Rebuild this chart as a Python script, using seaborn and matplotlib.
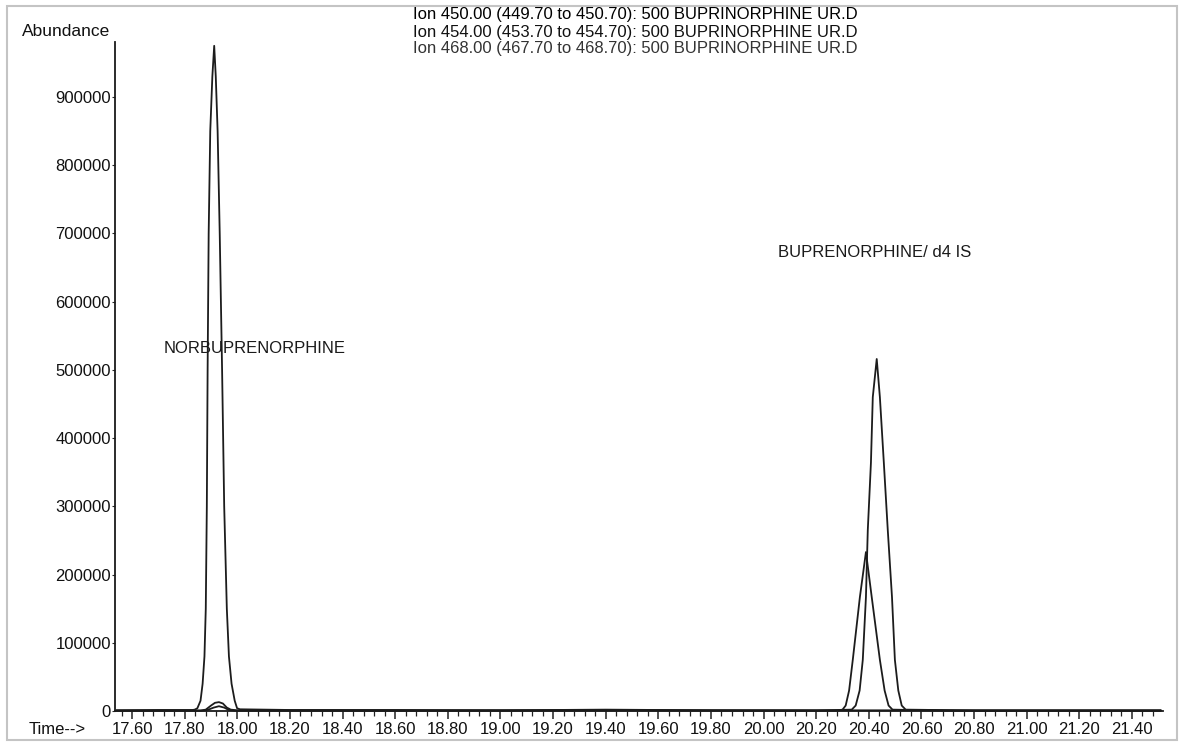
import numpy as np
import pandas as pd
import seaborn as sns
import matplotlib
import matplotlib.pyplot as plt
from matplotlib.ticker import MultipleLocator, FormatStrFormatter
from matplotlib.patches import Rectangle

matplotlib.use('Agg')

#%% data (time in min, abundance)
t_450 = [17.54, 17.70, 17.83, 17.838, 17.848, 17.860, 17.868, 17.875, 17.880, 17.884,
         17.887, 17.891, 17.897, 17.905, 17.912, 17.918, 17.925, 17.933, 17.942, 17.950,
         17.960, 17.968, 17.978, 17.990, 17.999, 18.010, 18.20, 18.60, 19.00, 19.40,
         19.80, 20.20, 20.60, 21.00, 21.51]
abund_450 = [1000, 1500, 1500, 2000, 4000, 15000, 40000, 80000, 150000, 300000,
             500000, 700000, 850000, 930000, 975000, 930000, 850000, 700000, 500000, 300000,
             150000, 80000, 40000, 15000, 4000, 2500, 1500, 1500, 1000, 2000,
             1000, 1000, 1000, 1000, 1000]

t_454 = [17.54, 17.86, 17.88, 17.90, 17.915, 17.93, 17.945, 17.96, 17.975, 18.00,
         18.60, 19.40, 20.20, 20.335, 20.350, 20.365, 20.377, 20.389, 20.396, 20.408,
         20.415, 20.430, 20.442, 20.457, 20.472, 20.488, 20.499, 20.512, 20.525, 20.540,
         20.80, 21.51]
abund_454 = [800, 800, 2000, 8000, 12000, 13000, 11000, 5000, 2000, 1000,
             800, 1200, 800, 2000, 8000, 30000, 75000, 167000, 265000, 364000,
             460000, 516000, 460000, 364000, 265000, 167000, 75000, 30000, 8000, 2000,
             800, 800]

t_468 = [17.54, 17.87, 17.89, 17.91, 17.93, 17.95, 17.965, 17.99, 18.80, 19.60,
         20.28, 20.300, 20.312, 20.325, 20.339, 20.366, 20.389, 20.411, 20.442, 20.460,
         20.475, 20.490, 20.70, 21.51]
abund_468 = [500, 500, 2000, 5000, 7000, 5000, 2000, 500, 500, 800,
             500, 2000, 8000, 30000, 75000, 167000, 233000, 167000, 75000, 30000,
             8000, 2000, 500, 500]

ions = ["450", "454", "468"]
header_lines = [
    "Ion 450.00 (449.70 to 450.70): 500 BUPRINORPHINE UR.D",
    "Ion 454.00 (453.70 to 454.70): 500 BUPRINORPHINE UR.D",
    "Ion 468.00 (467.70 to 468.70): 500 BUPRINORPHINE UR.D",
]
y_ticks = [0, 100000, 200000, 300000, 400000, 500000, 600000, 700000, 800000, 900000]

#%% long table for seaborn
df = pd.concat([
    pd.DataFrame({"time": t_450, "abundance": abund_450, "ion": "450"}),
    pd.DataFrame({"time": t_454, "abundance": abund_454, "ion": "454"}),
    pd.DataFrame({"time": t_468, "abundance": abund_468, "ion": "468"}),
])

#%% plot
sns.set_style("white")
plt.rcParams['font.family'] = ['Liberation Sans', 'DejaVu Sans']

W, H = 1181, 744
fig = plt.figure(figsize=(W / 100, H / 100), dpi=100)
ax = fig.add_axes([115 / W, 1 - 711 / H, (1163 - 115) / W, (711 - 42) / H])

sns.lineplot(data=df, x="time", y="abundance", hue="ion", hue_order=ions,
             palette=["#1c1c1c"] * 3, estimator=None, sort=False,
             linewidth=1.3, legend=False, ax=ax)
for ln in ax.lines:
    ln.set_clip_on(False)

ax.set_xlim(17.535, 21.518)
ax.set_ylim(0, 980600)
ax.set_xlabel("")
ax.set_ylabel("")

ax.xaxis.set_major_locator(MultipleLocator(0.2))
ax.xaxis.set_minor_locator(MultipleLocator(0.04))
ax.xaxis.set_major_formatter(FormatStrFormatter("%.2f"))
ax.set_yticks(y_ticks)
ax.set_yticklabels([str(v) for v in y_ticks])

ax.tick_params(axis="x", which="major", direction="out", length=6, width=1.1,
               labelsize=12, pad=2, color="#222222", labelcolor="#111111")
ax.tick_params(axis="x", which="minor", direction="out", length=3.5, width=0.9,
               color="#222222")
ax.tick_params(axis="y", direction="out", length=2, width=0.8, labelsize=12, pad=1,
               labelcolor="#111111")
ax.tick_params(bottom=True, left=True, which="both")

for side in ["top", "right"]:
    ax.spines[side].set_visible(False)
for side in ["left", "bottom"]:
    ax.spines[side].set_color("#1a1a1a")
    ax.spines[side].set_linewidth(1.3)

# peak labels
ax.text(17.718, 532000, "NORBUPRENORPHINE", fontsize=12, va="center", ha="left",
        color="#1a1a1a")
ax.text(20.054, 671500, "BUPRENORPHINE/ d4 IS", fontsize=12, va="center", ha="left",
        color="#1a1a1a")

# header and axis captions
fig.text(22 / W, 1 - 31 / H, "Abundance", fontsize=12.5, va="center", ha="left",
         color="#111111")
fig.text(29 / W, 1 - 730 / H, "Time-->", fontsize=12, va="center", ha="left",
         color="#111111")
header_colors = ["#000000", "#111111", "#333333"]
for i, line in enumerate(header_lines):
    fig.text(413 / W, 1 - (15 + 17 * i) / H, line, fontsize=12, va="center",
             ha="left", color=header_colors[i])

# scanned page frame
fig.patches.append(Rectangle((7 / W, 4 / H), (1177 - 7) / W, (738 - 4) / H,
                             transform=fig.transFigure, fill=False,
                             edgecolor="#c4c4c4", linewidth=1.5))

fig.savefig("out.png", dpi=100)
